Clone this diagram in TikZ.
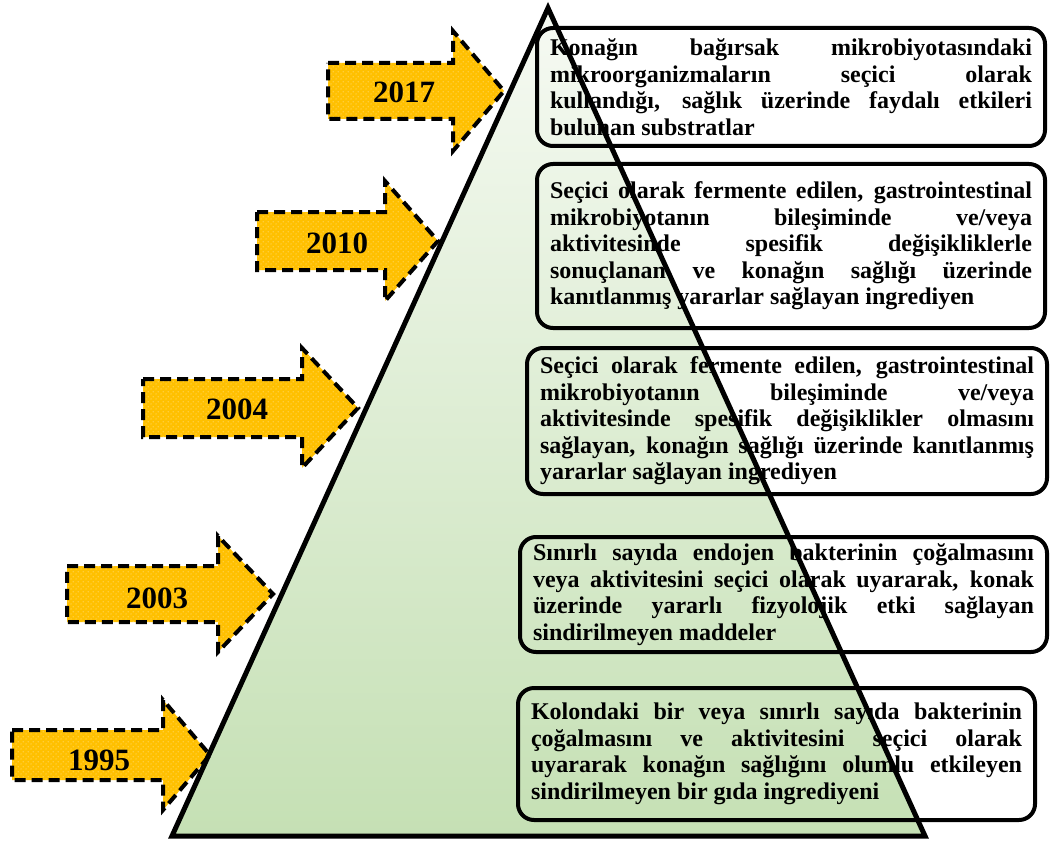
\documentclass[tikz,border=0pt]{standalone}
\usepackage{fontspec}
\setmainfont{Liberation Serif}
\usetikzlibrary{patterns.meta}
\definecolor{arrowyellow}{HTML}{FFC000}
\definecolor{trigreenbot}{HTML}{C5E0B4}
\definecolor{trigreentop}{HTML}{F6FAF3}
\hyphenpenalty=10000
\exhyphenpenalty=10000
\tikzdeclarepattern{
  name=wdots,
  type=uncolored,
  bounding box={(0pt,0pt) and (5pt,5pt)},
  tile size={(5pt,5pt)},
  code={\fill (1.25pt,1.25pt) circle (0.5pt); \fill (3.75pt,3.75pt) circle (0.5pt);}
}
\tikzset{
  arrowstyle/.style={preaction={fill=arrowyellow}, pattern={wdots}, pattern color=white,
    draw=black, line width=4pt, dash pattern=on 11pt off 6pt, line join=miter},
  yearlabel/.style={font={\bfseries\fontsize{31pt}{34pt}\selectfont}, inner sep=0pt},
  defbox/.style={draw=black, line width=4pt, rounded corners=16pt, inner xsep=13pt, inner ysep=0pt,
    align=justify, font={\bfseries\fontsize{24pt}{26.5pt}\selectfont}},
  triline/.style={draw=black, line width=5pt, line join=miter}
}
% #1 left x, #2 head base x, #3 tip x, #4 centre y, #5 half body height, #6 half head height
\newcommand\YearArrow[6]{%
  \path[arrowstyle] (#1,{#4-#5}) -- (#2,{#4-#5}) -- (#2,{#4-#6}) -- (#3,#4)
    -- (#2,{#4+#6}) -- (#2,{#4+#5}) -- (#1,{#4+#5}) -- cycle;}
\begin{document}
\begin{tikzpicture}[x=1pt, y=-1pt]
\fill[white] (0,0) rectangle (1051,845);
\useasboundingbox (0,0) rectangle (1051,845);

\coordinate (apex) at (548,8);
\coordinate (bl) at (172,836);
\coordinate (br) at (925,836);
\shade[top color=trigreentop, bottom color=trigreenbot] (apex) -- (bl) -- (br) -- cycle;

\YearArrow{328}{453}{504}{91}{28}{60}
\YearArrow{257}{385}{438}{241}{29}{60}
\YearArrow{143}{302}{358}{408}{29}{60}
\YearArrow{67}{218}{273}{594}{28}{58}
\YearArrow{12}{163}{210}{755}{25}{55}

\node[yearlabel] (y2017) at (404,92) {2017};
\node[yearlabel] (y2010) at (337,243) {2010};
\node[yearlabel] (y2004) at (237,409) {2004};
\node[yearlabel] (y2003) at (157,598) {2003};
\node[yearlabel] (y1995) at (99,760) {1995};

\node[defbox, text width=482pt, minimum width=508pt, minimum height=118pt] (b1) at (791,87)
 {Konağın bağırsak mikrobiyotasındaki\linebreak mikroorganizmaların seçici olarak\linebreak kullandığı, sağlık üzerinde faydalı etkileri\linebreak bulunan substratlar};
\node[defbox, text width=482pt, minimum width=508pt, minimum height=164pt] (b2) at (791,246)
 {Seçici olarak fermente edilen, gastrointestinal\linebreak mikrobiyotanın bileşiminde ve/veya\linebreak aktivitesinde spesifik değişikliklerle\linebreak sonuçlanan ve konağın sağlığı üzerinde\linebreak kanıtlanmış yararlar sağlayan ingrediyen};
\node[defbox, text width=494pt, minimum width=520pt, minimum height=146pt] (b3) at (787,421)
 {Seçici olarak fermente edilen, gastrointestinal\linebreak mikrobiyotanın bileşiminde ve/veya\linebreak aktivitesinde spesifik değişiklikler olmasını\linebreak sağlayan, konağın sağlığı üzerinde kanıtlanmış\linebreak yararlar sağlayan ingrediyen};
\node[defbox, text width=501pt, minimum width=527pt, minimum height=115pt] (b4) at (783.5,594.5)
 {Sınırlı sayıda endojen bakterinin çoğalmasını\linebreak veya aktivitesini seçici olarak uyararak, konak\linebreak üzerinde yararlı fizyolojik etki sağlayan\linebreak sindirilmeyen maddeler};
\node[defbox, text width=491pt, minimum width=517pt, minimum height=132pt] (b5) at (776.5,754)
 {Kolondaki bir veya sınırlı sayıda bakterinin\linebreak çoğalmasını ve aktivitesini seçici olarak\linebreak uyararak konağın sağlığını olumlu etkileyen\linebreak sindirilmeyen bir gıda ingrediyeni};

\path[triline] (apex) -- (bl) -- (br) -- cycle;
\end{tikzpicture}
\end{document}
